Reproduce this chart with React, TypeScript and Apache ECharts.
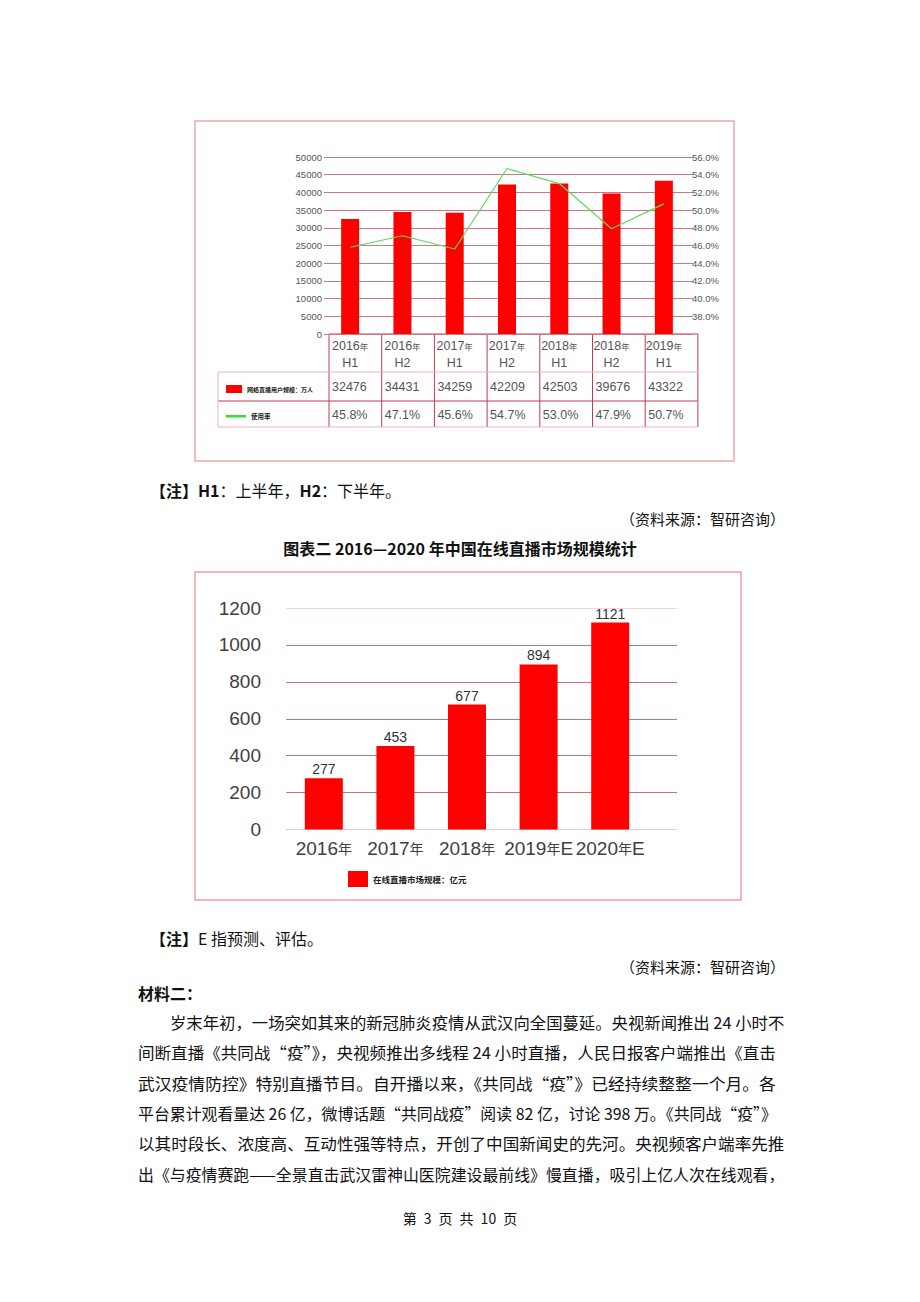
import React, { useEffect, useRef } from 'react';
import * as echarts from 'echarts';

// ---------- data ----------
const periodYears = ['2016年', '2016年', '2017年', '2017年', '2018年', '2018年', '2019年'];
const periodHalves = ['H1', 'H2', 'H1', 'H2', 'H1', 'H2', 'H1'];
const userScale = [32476, 34431, 34259, 42209, 42503, 39676, 43322];
const usageRate = [45.8, 47.1, 45.6, 54.7, 53.0, 47.9, 50.7];

const marketYears = ['2016年', '2017年', '2018年', '2019年E', '2020年E'];
const marketSize = [277, 453, 677, 894, 1121];

const nameUsers = '网络直播用户规模：万人';
const nameRate = '使用率';
const nameMarket = '在线直播市场规模：亿元';

const note1 = '{b|【注】H1}：上半年，{b|H2}：下半年。';
const source = '（资料来源：智研咨询）';
const title2 = '图表二 2016—2020 年中国在线直播市场规模统计';
const note2 = '{b|【注】}E 指预测、评估。';
const material = '材料二：';
const bodyLines = [
  '岁末年初，一场突如其来的新冠肺炎疫情从武汉向全国蔓延。央视新闻推出 24 小时不',
  '间断直播《共同战“疫”》，央视频推出多线程 24 小时直播，人民日报客户端推出《直击',
  '武汉疫情防控》特别直播节目。自开播以来，《共同战“疫”》已经持续整整一个月。各',
  '平台累计观看量达 26 亿，微博话题“共同战疫”阅读 82 亿，讨论 398 万。《共同战“疫”》',
  '以其时段长、浓度高、互动性强等特点，开创了中国新闻史的先河。央视频客户端率先推',
  '出《与疫情赛跑——全景直击武汉雷神山医院建设最前线》慢直播，吸引上亿人次在线观看，',
];
const footer = '第\u20023\u2002页\u2002共\u200210\u2002页';

// ---------- styles ----------
const FONT_CJK = '"Noto Sans CJK SC", "Noto Sans", sans-serif';
const FONT_ARIAL = '"Liberation Sans", Arial, sans-serif';

function measure(text: string, font: string): number {
  const ctx = document.createElement('canvas').getContext('2d');
  if (!ctx) return 0;
  ctx.font = font;
  return ctx.measureText(text).width;
}

export default function App() {
  const ref = useRef<HTMLDivElement>(null);

  useEffect(() => {
    if (!ref.current) return;
    const chart = echarts.init(ref.current, undefined, { renderer: 'svg' });

    const userCats = periodYears.map((y, i) => y + periodHalves[i]);

    // table geometry (chart 1)
    const TL = 329;
    const CW = 52.7;
    const TR = TL + CW * 7;
    const dark = '#c23a52';
    const light = '#efb2ba';

    const tableEls: any[] = [];
    for (let i = 0; i <= 7; i++) {
      tableEls.push({
        type: 'line',
        shape: { x1: TL + i * CW, y1: 334, x2: TL + i * CW, y2: 427 },
        style: { stroke: dark, lineWidth: 1 },
      });
    }
    tableEls.push({ type: 'line', shape: { x1: TL, y1: 334, x2: TR, y2: 334 }, style: { stroke: dark, lineWidth: 1 } });
    tableEls.push({ type: 'line', shape: { x1: 218, y1: 372, x2: TR, y2: 372 }, style: { stroke: light, lineWidth: 1 } });
    tableEls.push({ type: 'line', shape: { x1: 218, y1: 401, x2: TR, y2: 401 }, style: { stroke: dark, lineWidth: 1 } });
    tableEls.push({ type: 'line', shape: { x1: 218, y1: 427, x2: TR, y2: 427 }, style: { stroke: light, lineWidth: 1 } });
    tableEls.push({ type: 'line', shape: { x1: 218, y1: 372, x2: 218, y2: 427 }, style: { stroke: light, lineWidth: 1 } });
    userScale.forEach((v, i) => {
      tableEls.push({
        type: 'text', x: TL + i * CW + 3, y: 387,
        style: { text: String(v), fontSize: 12.5, fontFamily: FONT_ARIAL, fill: '#555', verticalAlign: 'middle', align: 'left' },
      });
    });
    usageRate.forEach((v, i) => {
      tableEls.push({
        type: 'text', x: TL + i * CW + 3, y: 415,
        style: { text: v.toFixed(1) + '%', fontSize: 12.5, fontFamily: FONT_ARIAL, fill: '#555', verticalAlign: 'middle', align: 'left' },
      });
    });

    const bodyFont = 16;
    const bodyEls = bodyLines.map((line, i) => {
      const x0 = i === 0 ? 170 : 138;
      const target = 785 - x0;
      const w = measure(line, `${bodyFont}px ${FONT_CJK}`);
      const sx = w > 0 ? target / w : 1;
      return {
        type: 'text', x: x0, y: 1022 + i * 30.4, scaleX: sx,
        style: { text: line, fontSize: bodyFont, fontFamily: FONT_CJK, fill: '#111', verticalAlign: 'middle', align: 'left' },
      };
    });

    const richB = { b: { fontSize: 16, fontFamily: FONT_CJK, fontWeight: 'bold', fill: '#111' } };

    const docEls: any[] = [
      { type: 'rect', shape: { x: 195, y: 121, width: 539, height: 340 }, style: { fill: 'none', stroke: '#f0a8ac', lineWidth: 1.5 } },
      { type: 'rect', shape: { x: 195, y: 572, width: 546, height: 328 }, style: { fill: 'none', stroke: '#f0a0a4', lineWidth: 1.5 } },
      {
        type: 'text', x: 150, y: 490,
        style: { text: note1, rich: richB, fontSize: 16, fontFamily: FONT_CJK, fill: '#111', verticalAlign: 'middle' },
      },
      {
        type: 'text', x: 785, y: 518,
        style: { text: source, fontSize: 15, fontFamily: FONT_CJK, fill: '#111', verticalAlign: 'middle', align: 'right' },
      },
      {
        type: 'text', x: 460, y: 548,
        style: { text: title2, fontSize: 16, fontWeight: 'bold', fontFamily: FONT_CJK, fill: '#111', verticalAlign: 'middle', align: 'center' },
      },
      {
        type: 'text', x: 150, y: 938,
        style: { text: note2, rich: richB, fontSize: 16, fontFamily: FONT_CJK, fill: '#111', verticalAlign: 'middle' },
      },
      {
        type: 'text', x: 785, y: 966,
        style: { text: source, fontSize: 15, fontFamily: FONT_CJK, fill: '#111', verticalAlign: 'middle', align: 'right' },
      },
      {
        type: 'text', x: 138, y: 993,
        style: { text: material, fontSize: 16, fontWeight: 'bold', fontFamily: FONT_CJK, fill: '#111', verticalAlign: 'middle' },
      },
      {
        type: 'text', x: 460, y: 1218,
        style: { text: footer, fontSize: 14, fontFamily: FONT_CJK, fill: '#111', verticalAlign: 'middle', align: 'center' },
      },
    ];

    const grid1Line = '#cc7686';
    const plain = (v: number) => String(v);

    const option: any = {
      animation: false,
      backgroundColor: '#ffffff',
      textStyle: { fontFamily: FONT_ARIAL },
      grid: [
        { left: 324, top: 157, width: 366, height: 177 },
        { left: 286, top: 608, width: 391, height: 221.5 },
        { left: 288, top: 608, width: 358, height: 221.5 },
      ],
      xAxis: [
        {
          gridIndex: 0, type: 'category', data: userCats,
          axisLine: { show: false }, axisTick: { show: false },
          axisLabel: {
            interval: 0, margin: 3,
            formatter: (v: string) => `{y|${v.slice(0, 4)}}{n|年}\n{h|${v.slice(5)}}`,
            rich: {
              y: { fontSize: 12.5, color: '#555', lineHeight: 17, fontFamily: FONT_ARIAL },
              n: { fontSize: 8.5, color: '#555', lineHeight: 17, fontFamily: FONT_CJK },
              h: { fontSize: 12.5, color: '#555', lineHeight: 17, fontFamily: FONT_ARIAL },
            },
          },
        },
        { gridIndex: 1, type: 'value', min: 0, max: 1, show: false },
        {
          gridIndex: 2, type: 'category', data: marketYears,
          axisLine: { show: false }, axisTick: { show: false },
          axisLabel: {
            interval: 0, margin: 9,
            formatter: (v: string) => {
              const m = v.match(/^(\d+)年(.*)$/);
              if (!m) return v;
              return `{d|${m[1]}}{n|年}` + (m[2] ? `{d|${m[2]}}` : '');
            },
            rich: {
              d: { fontSize: 19, color: '#404040', fontFamily: FONT_ARIAL },
              n: { fontSize: 14, color: '#404040', fontFamily: FONT_CJK },
            },
          },
        },
      ],
      yAxis: [
        {
          gridIndex: 0, type: 'value', min: 0, max: 50000, interval: 5000,
          axisLine: { show: false }, axisTick: { show: false },
          axisLabel: { fontSize: 9.5, color: '#555', margin: 2, fontFamily: FONT_ARIAL, formatter: plain },
          splitLine: { lineStyle: { color: grid1Line, width: 1 } },
        },
        {
          gridIndex: 0, type: 'value', min: 36, max: 56, interval: 2, position: 'right',
          axisLine: { show: false },
          axisTick: { show: true, length: 3, lineStyle: { color: grid1Line } },
          axisLabel: {
            fontSize: 9.5, color: '#555', margin: 2, fontFamily: FONT_ARIAL,
            formatter: (v: number) => (v === 36 ? '' : v.toFixed(1) + '%'),
          },
          splitLine: { show: false },
        },
        {
          gridIndex: 1, type: 'value', min: 0, max: 1200, interval: 200,
          axisLine: { show: false }, axisTick: { show: false },
          axisLabel: { fontSize: 19, color: '#404040', margin: 25, fontFamily: FONT_ARIAL, formatter: plain },
          splitLine: {
            lineStyle: {
              width: 1,
              color: ['#f0c8cc', '#c86f80', '#c86f80', '#c86f80', '#c86f80', '#c86f80', '#f2d4d8'],
            },
          },
        },
        { gridIndex: 2, type: 'value', min: 0, max: 1200, show: false },
      ],
      legend: [
        {
          data: [nameUsers], left: 226, top: 385, padding: 0, icon: 'rect',
          itemWidth: 16, itemHeight: 8, selectedMode: false,
          textStyle: { fontSize: 6, fontWeight: 'bold', color: '#222', fontFamily: FONT_CJK },
        },
        {
          data: [nameRate], left: 226, top: 413, padding: 0, icon: 'rect',
          itemWidth: 20, itemHeight: 2.5, selectedMode: false,
          textStyle: { fontSize: 6.5, fontWeight: 'bold', color: '#222', fontFamily: FONT_CJK },
        },
        {
          data: [nameMarket], left: 348, top: 871, padding: 0, icon: 'rect',
          itemWidth: 20, itemHeight: 16, selectedMode: false,
          textStyle: { fontSize: 8.5, fontWeight: 'bold', color: '#222', fontFamily: FONT_CJK },
        },
      ],
      series: [
        {
          name: nameUsers, type: 'bar', xAxisIndex: 0, yAxisIndex: 0,
          data: userScale, barWidth: 18, itemStyle: { color: '#ff0000' },
        },
        {
          name: nameRate, type: 'line', xAxisIndex: 0, yAxisIndex: 1,
          data: usageRate, symbol: 'none', itemStyle: { color: '#33e033' },
          lineStyle: { color: '#5cdc5c', width: 1.2 },
        },
        {
          name: nameMarket, type: 'bar', xAxisIndex: 2, yAxisIndex: 3,
          data: marketSize, barWidth: 38, itemStyle: { color: '#ff0000' },
          label: {
            show: true, position: 'top', distance: 2, fontSize: 14,
            color: '#333', fontFamily: FONT_ARIAL,
          },
        },
      ],
      graphic: { elements: [...docEls, ...tableEls, ...bodyEls] },
    };

    chart.setOption(option);
    return () => {
      chart.dispose();
    };
  }, []);

  return (
    <div
      ref={ref}
      style={{ position: 'absolute', left: 0, top: 0, width: 920, height: 1302, background: '#fff' }}
    />
  );
}
